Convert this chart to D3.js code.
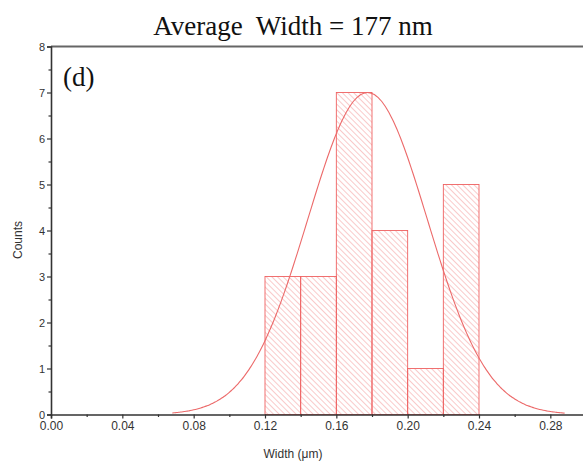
<!DOCTYPE html>
<html><head><meta charset="utf-8">
<script src="https://cdn.jsdelivr.net/npm/d3@7"></script>
<style>html,body{margin:0;padding:0;background:#fff;}svg{display:block;}</style>
</head><body>
<svg id="c" width="583" height="465"></svg>
<script>
const binStarts = [0.12, 0.14, 0.16, 0.18, 0.20, 0.22];
const binWidth = 0.02;
const counts = [3, 3, 7, 4, 1, 5];
const xTicks = [0.00, 0.04, 0.08, 0.12, 0.16, 0.20, 0.24, 0.28];
const yTicks = [0, 1, 2, 3, 4, 5, 6, 7, 8];
const fitMean = 0.1775, fitSigma = 0.0335, fitPeak = 7.0;
const fitRange = [0.068, 0.288];

const svg = d3.select("#c");
const x = d3.scaleLinear().domain([0, 0.3]).range([51, 586]);
const y = d3.scaleLinear().domain([0, 8]).range([414.5, 46.5]);

const defs = svg.append("defs");
const pat = defs.append("pattern").attr("id","hatch").attr("patternUnits","userSpaceOnUse")
  .attr("width",4).attr("height",4).attr("patternTransform","rotate(-45)");
pat.append("line").attr("x1",0).attr("y1",0).attr("x2",0).attr("y2",4)
  .attr("stroke","#f28a8a").attr("stroke-width",0.9);

// title
svg.append("text").attr("x",293).attr("y",35).attr("text-anchor","middle")
  .attr("font-family","Liberation Serif, Times New Roman, serif").attr("font-size",27)
  .attr("fill","#111").attr("xml:space","preserve").text("Average  Width = 177 nm");

// bars
svg.append("g").selectAll("rect").data(binStarts).join("rect")
  .attr("x", d => x(d)).attr("width", d => x(d+binWidth)-x(d))
  .attr("y", (d,i) => y(counts[i])).attr("height", (d,i) => y(0)-y(counts[i]))
  .attr("fill","url(#hatch)").attr("stroke","#ef6262").attr("stroke-width",0.9);

// fit curve
const pts = d3.range(0, 221).map(i => {
  const xv = fitRange[0] + (fitRange[1]-fitRange[0])*i/220;
  return [xv, fitPeak*Math.exp(-((xv-fitMean)**2)/(2*fitSigma*fitSigma))];
});
svg.append("path").datum(pts)
  .attr("d", d3.line().x(d=>x(d[0])).y(d=>y(d[1])).curve(d3.curveBasis))
  .attr("fill","none").attr("stroke","#ec6a6a").attr("stroke-width",1.1);

// top frame
svg.append("line").attr("x1",x(0)).attr("x2",583).attr("y1",y(8)).attr("y2",y(8))
  .attr("stroke","#666").attr("stroke-width",2);

// x axis
const xa = svg.append("g").attr("transform",`translate(0,${y(0)})`)
  .call(d3.axisBottom(x).tickValues(xTicks).tickFormat(d3.format(".2f")).tickSize(4).tickPadding(3));
const xm = svg.append("g").attr("transform",`translate(0,${y(0)})`)
  .call(d3.axisBottom(x).tickValues(xTicks.map(v=>v+0.02)).tickFormat("").tickSize(2.5));
// y axis
const ya = svg.append("g").attr("transform",`translate(${x(0)},0)`)
  .call(d3.axisLeft(y).tickValues(yTicks).tickFormat(d3.format("d")).tickSize(4).tickPadding(2));
const ym = svg.append("g").attr("transform",`translate(${x(0)},0)`)
  .call(d3.axisLeft(y).tickValues(yTicks.slice(0,-1).map(v=>v+0.5)).tickFormat("").tickSize(2.5));
[xm, ym].forEach(g => g.select(".domain").remove());
[xa, xm, ya, ym].forEach(g => {
  g.selectAll("path.domain").attr("stroke","#333").attr("stroke-width",1.6);
  g.selectAll(".tick line").attr("stroke","#333").attr("stroke-width",1.2);
  g.selectAll("text").attr("font-family","Liberation Sans, Arial, sans-serif").attr("fill","#333");
});
xa.selectAll("text").attr("font-size",12);
ya.selectAll("text").attr("font-size",11);

// axis titles
svg.append("text").attr("x",293).attr("y",458).attr("text-anchor","middle")
  .attr("font-family","Liberation Sans, Arial, sans-serif").attr("font-size",12).attr("fill","#333")
  .text("Width (μm)");
svg.append("text").attr("transform","translate(22,240) rotate(-90)").attr("text-anchor","middle")
  .attr("font-family","Liberation Sans, Arial, sans-serif").attr("font-size",12).attr("fill","#333")
  .text("Counts");

// panel label
svg.append("text").attr("x",63).attr("y",86)
  .attr("font-family","Liberation Serif, Times New Roman, serif").attr("font-size",27).attr("fill","#111")
  .text("(d)");
</script>
</body></html>
